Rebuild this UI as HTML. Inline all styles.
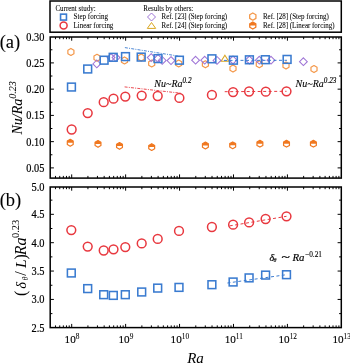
<!DOCTYPE html>
<html><head><meta charset="utf-8"><style>
html,body{margin:0;padding:0;background:#fff;width:350px;height:363px;overflow:hidden}
svg{display:block;will-change:transform}
</style></head><body>
<svg width="350" height="363" viewBox="0 0 350 363">
<rect x="50.2" y="37.0" width="291.10" height="141.10" fill="none" stroke="#000" stroke-width="1.5"/>
<line x1="55.47" y1="178.1" x2="55.47" y2="175.9" stroke="#000" stroke-width="1.0"/>
<line x1="55.47" y1="37.0" x2="55.47" y2="39.2" stroke="#000" stroke-width="1.0"/>
<line x1="59.74" y1="178.1" x2="59.74" y2="175.9" stroke="#000" stroke-width="1.0"/>
<line x1="59.74" y1="37.0" x2="59.74" y2="39.2" stroke="#000" stroke-width="1.0"/>
<line x1="63.35" y1="178.1" x2="63.35" y2="175.9" stroke="#000" stroke-width="1.0"/>
<line x1="63.35" y1="37.0" x2="63.35" y2="39.2" stroke="#000" stroke-width="1.0"/>
<line x1="66.47" y1="178.1" x2="66.47" y2="175.9" stroke="#000" stroke-width="1.0"/>
<line x1="66.47" y1="37.0" x2="66.47" y2="39.2" stroke="#000" stroke-width="1.0"/>
<line x1="69.23" y1="178.1" x2="69.23" y2="175.9" stroke="#000" stroke-width="1.0"/>
<line x1="69.23" y1="37.0" x2="69.23" y2="39.2" stroke="#000" stroke-width="1.0"/>
<line x1="71.70" y1="178.1" x2="71.70" y2="174.4" stroke="#000" stroke-width="1.0"/>
<line x1="71.70" y1="37.0" x2="71.70" y2="40.7" stroke="#000" stroke-width="1.0"/>
<line x1="87.93" y1="178.1" x2="87.93" y2="175.9" stroke="#000" stroke-width="1.0"/>
<line x1="87.93" y1="37.0" x2="87.93" y2="39.2" stroke="#000" stroke-width="1.0"/>
<line x1="97.43" y1="178.1" x2="97.43" y2="175.9" stroke="#000" stroke-width="1.0"/>
<line x1="97.43" y1="37.0" x2="97.43" y2="39.2" stroke="#000" stroke-width="1.0"/>
<line x1="104.17" y1="178.1" x2="104.17" y2="175.9" stroke="#000" stroke-width="1.0"/>
<line x1="104.17" y1="37.0" x2="104.17" y2="39.2" stroke="#000" stroke-width="1.0"/>
<line x1="109.40" y1="178.1" x2="109.40" y2="175.9" stroke="#000" stroke-width="1.0"/>
<line x1="109.40" y1="37.0" x2="109.40" y2="39.2" stroke="#000" stroke-width="1.0"/>
<line x1="113.67" y1="178.1" x2="113.67" y2="175.9" stroke="#000" stroke-width="1.0"/>
<line x1="113.67" y1="37.0" x2="113.67" y2="39.2" stroke="#000" stroke-width="1.0"/>
<line x1="117.28" y1="178.1" x2="117.28" y2="175.9" stroke="#000" stroke-width="1.0"/>
<line x1="117.28" y1="37.0" x2="117.28" y2="39.2" stroke="#000" stroke-width="1.0"/>
<line x1="120.40" y1="178.1" x2="120.40" y2="175.9" stroke="#000" stroke-width="1.0"/>
<line x1="120.40" y1="37.0" x2="120.40" y2="39.2" stroke="#000" stroke-width="1.0"/>
<line x1="123.16" y1="178.1" x2="123.16" y2="175.9" stroke="#000" stroke-width="1.0"/>
<line x1="123.16" y1="37.0" x2="123.16" y2="39.2" stroke="#000" stroke-width="1.0"/>
<line x1="125.63" y1="178.1" x2="125.63" y2="174.4" stroke="#000" stroke-width="1.0"/>
<line x1="125.63" y1="37.0" x2="125.63" y2="40.7" stroke="#000" stroke-width="1.0"/>
<line x1="141.86" y1="178.1" x2="141.86" y2="175.9" stroke="#000" stroke-width="1.0"/>
<line x1="141.86" y1="37.0" x2="141.86" y2="39.2" stroke="#000" stroke-width="1.0"/>
<line x1="151.36" y1="178.1" x2="151.36" y2="175.9" stroke="#000" stroke-width="1.0"/>
<line x1="151.36" y1="37.0" x2="151.36" y2="39.2" stroke="#000" stroke-width="1.0"/>
<line x1="158.10" y1="178.1" x2="158.10" y2="175.9" stroke="#000" stroke-width="1.0"/>
<line x1="158.10" y1="37.0" x2="158.10" y2="39.2" stroke="#000" stroke-width="1.0"/>
<line x1="163.33" y1="178.1" x2="163.33" y2="175.9" stroke="#000" stroke-width="1.0"/>
<line x1="163.33" y1="37.0" x2="163.33" y2="39.2" stroke="#000" stroke-width="1.0"/>
<line x1="167.60" y1="178.1" x2="167.60" y2="175.9" stroke="#000" stroke-width="1.0"/>
<line x1="167.60" y1="37.0" x2="167.60" y2="39.2" stroke="#000" stroke-width="1.0"/>
<line x1="171.21" y1="178.1" x2="171.21" y2="175.9" stroke="#000" stroke-width="1.0"/>
<line x1="171.21" y1="37.0" x2="171.21" y2="39.2" stroke="#000" stroke-width="1.0"/>
<line x1="174.33" y1="178.1" x2="174.33" y2="175.9" stroke="#000" stroke-width="1.0"/>
<line x1="174.33" y1="37.0" x2="174.33" y2="39.2" stroke="#000" stroke-width="1.0"/>
<line x1="177.09" y1="178.1" x2="177.09" y2="175.9" stroke="#000" stroke-width="1.0"/>
<line x1="177.09" y1="37.0" x2="177.09" y2="39.2" stroke="#000" stroke-width="1.0"/>
<line x1="179.56" y1="178.1" x2="179.56" y2="174.4" stroke="#000" stroke-width="1.0"/>
<line x1="179.56" y1="37.0" x2="179.56" y2="40.7" stroke="#000" stroke-width="1.0"/>
<line x1="195.79" y1="178.1" x2="195.79" y2="175.9" stroke="#000" stroke-width="1.0"/>
<line x1="195.79" y1="37.0" x2="195.79" y2="39.2" stroke="#000" stroke-width="1.0"/>
<line x1="205.29" y1="178.1" x2="205.29" y2="175.9" stroke="#000" stroke-width="1.0"/>
<line x1="205.29" y1="37.0" x2="205.29" y2="39.2" stroke="#000" stroke-width="1.0"/>
<line x1="212.03" y1="178.1" x2="212.03" y2="175.9" stroke="#000" stroke-width="1.0"/>
<line x1="212.03" y1="37.0" x2="212.03" y2="39.2" stroke="#000" stroke-width="1.0"/>
<line x1="217.26" y1="178.1" x2="217.26" y2="175.9" stroke="#000" stroke-width="1.0"/>
<line x1="217.26" y1="37.0" x2="217.26" y2="39.2" stroke="#000" stroke-width="1.0"/>
<line x1="221.53" y1="178.1" x2="221.53" y2="175.9" stroke="#000" stroke-width="1.0"/>
<line x1="221.53" y1="37.0" x2="221.53" y2="39.2" stroke="#000" stroke-width="1.0"/>
<line x1="225.14" y1="178.1" x2="225.14" y2="175.9" stroke="#000" stroke-width="1.0"/>
<line x1="225.14" y1="37.0" x2="225.14" y2="39.2" stroke="#000" stroke-width="1.0"/>
<line x1="228.26" y1="178.1" x2="228.26" y2="175.9" stroke="#000" stroke-width="1.0"/>
<line x1="228.26" y1="37.0" x2="228.26" y2="39.2" stroke="#000" stroke-width="1.0"/>
<line x1="231.02" y1="178.1" x2="231.02" y2="175.9" stroke="#000" stroke-width="1.0"/>
<line x1="231.02" y1="37.0" x2="231.02" y2="39.2" stroke="#000" stroke-width="1.0"/>
<line x1="233.49" y1="178.1" x2="233.49" y2="174.4" stroke="#000" stroke-width="1.0"/>
<line x1="233.49" y1="37.0" x2="233.49" y2="40.7" stroke="#000" stroke-width="1.0"/>
<line x1="249.72" y1="178.1" x2="249.72" y2="175.9" stroke="#000" stroke-width="1.0"/>
<line x1="249.72" y1="37.0" x2="249.72" y2="39.2" stroke="#000" stroke-width="1.0"/>
<line x1="259.22" y1="178.1" x2="259.22" y2="175.9" stroke="#000" stroke-width="1.0"/>
<line x1="259.22" y1="37.0" x2="259.22" y2="39.2" stroke="#000" stroke-width="1.0"/>
<line x1="265.96" y1="178.1" x2="265.96" y2="175.9" stroke="#000" stroke-width="1.0"/>
<line x1="265.96" y1="37.0" x2="265.96" y2="39.2" stroke="#000" stroke-width="1.0"/>
<line x1="271.19" y1="178.1" x2="271.19" y2="175.9" stroke="#000" stroke-width="1.0"/>
<line x1="271.19" y1="37.0" x2="271.19" y2="39.2" stroke="#000" stroke-width="1.0"/>
<line x1="275.46" y1="178.1" x2="275.46" y2="175.9" stroke="#000" stroke-width="1.0"/>
<line x1="275.46" y1="37.0" x2="275.46" y2="39.2" stroke="#000" stroke-width="1.0"/>
<line x1="279.07" y1="178.1" x2="279.07" y2="175.9" stroke="#000" stroke-width="1.0"/>
<line x1="279.07" y1="37.0" x2="279.07" y2="39.2" stroke="#000" stroke-width="1.0"/>
<line x1="282.19" y1="178.1" x2="282.19" y2="175.9" stroke="#000" stroke-width="1.0"/>
<line x1="282.19" y1="37.0" x2="282.19" y2="39.2" stroke="#000" stroke-width="1.0"/>
<line x1="284.95" y1="178.1" x2="284.95" y2="175.9" stroke="#000" stroke-width="1.0"/>
<line x1="284.95" y1="37.0" x2="284.95" y2="39.2" stroke="#000" stroke-width="1.0"/>
<line x1="287.42" y1="178.1" x2="287.42" y2="174.4" stroke="#000" stroke-width="1.0"/>
<line x1="287.42" y1="37.0" x2="287.42" y2="40.7" stroke="#000" stroke-width="1.0"/>
<line x1="303.65" y1="178.1" x2="303.65" y2="175.9" stroke="#000" stroke-width="1.0"/>
<line x1="303.65" y1="37.0" x2="303.65" y2="39.2" stroke="#000" stroke-width="1.0"/>
<line x1="313.15" y1="178.1" x2="313.15" y2="175.9" stroke="#000" stroke-width="1.0"/>
<line x1="313.15" y1="37.0" x2="313.15" y2="39.2" stroke="#000" stroke-width="1.0"/>
<line x1="319.89" y1="178.1" x2="319.89" y2="175.9" stroke="#000" stroke-width="1.0"/>
<line x1="319.89" y1="37.0" x2="319.89" y2="39.2" stroke="#000" stroke-width="1.0"/>
<line x1="325.12" y1="178.1" x2="325.12" y2="175.9" stroke="#000" stroke-width="1.0"/>
<line x1="325.12" y1="37.0" x2="325.12" y2="39.2" stroke="#000" stroke-width="1.0"/>
<line x1="329.39" y1="178.1" x2="329.39" y2="175.9" stroke="#000" stroke-width="1.0"/>
<line x1="329.39" y1="37.0" x2="329.39" y2="39.2" stroke="#000" stroke-width="1.0"/>
<line x1="333.00" y1="178.1" x2="333.00" y2="175.9" stroke="#000" stroke-width="1.0"/>
<line x1="333.00" y1="37.0" x2="333.00" y2="39.2" stroke="#000" stroke-width="1.0"/>
<line x1="336.12" y1="178.1" x2="336.12" y2="175.9" stroke="#000" stroke-width="1.0"/>
<line x1="336.12" y1="37.0" x2="336.12" y2="39.2" stroke="#000" stroke-width="1.0"/>
<line x1="338.88" y1="178.1" x2="338.88" y2="175.9" stroke="#000" stroke-width="1.0"/>
<line x1="338.88" y1="37.0" x2="338.88" y2="39.2" stroke="#000" stroke-width="1.0"/>
<rect x="50.2" y="187.0" width="291.10" height="140.60" fill="none" stroke="#000" stroke-width="1.5"/>
<line x1="55.47" y1="327.6" x2="55.47" y2="325.40000000000003" stroke="#000" stroke-width="1.0"/>
<line x1="55.47" y1="187.0" x2="55.47" y2="189.2" stroke="#000" stroke-width="1.0"/>
<line x1="59.74" y1="327.6" x2="59.74" y2="325.40000000000003" stroke="#000" stroke-width="1.0"/>
<line x1="59.74" y1="187.0" x2="59.74" y2="189.2" stroke="#000" stroke-width="1.0"/>
<line x1="63.35" y1="327.6" x2="63.35" y2="325.40000000000003" stroke="#000" stroke-width="1.0"/>
<line x1="63.35" y1="187.0" x2="63.35" y2="189.2" stroke="#000" stroke-width="1.0"/>
<line x1="66.47" y1="327.6" x2="66.47" y2="325.40000000000003" stroke="#000" stroke-width="1.0"/>
<line x1="66.47" y1="187.0" x2="66.47" y2="189.2" stroke="#000" stroke-width="1.0"/>
<line x1="69.23" y1="327.6" x2="69.23" y2="325.40000000000003" stroke="#000" stroke-width="1.0"/>
<line x1="69.23" y1="187.0" x2="69.23" y2="189.2" stroke="#000" stroke-width="1.0"/>
<line x1="71.70" y1="327.6" x2="71.70" y2="323.90000000000003" stroke="#000" stroke-width="1.0"/>
<line x1="71.70" y1="187.0" x2="71.70" y2="190.7" stroke="#000" stroke-width="1.0"/>
<line x1="87.93" y1="327.6" x2="87.93" y2="325.40000000000003" stroke="#000" stroke-width="1.0"/>
<line x1="87.93" y1="187.0" x2="87.93" y2="189.2" stroke="#000" stroke-width="1.0"/>
<line x1="97.43" y1="327.6" x2="97.43" y2="325.40000000000003" stroke="#000" stroke-width="1.0"/>
<line x1="97.43" y1="187.0" x2="97.43" y2="189.2" stroke="#000" stroke-width="1.0"/>
<line x1="104.17" y1="327.6" x2="104.17" y2="325.40000000000003" stroke="#000" stroke-width="1.0"/>
<line x1="104.17" y1="187.0" x2="104.17" y2="189.2" stroke="#000" stroke-width="1.0"/>
<line x1="109.40" y1="327.6" x2="109.40" y2="325.40000000000003" stroke="#000" stroke-width="1.0"/>
<line x1="109.40" y1="187.0" x2="109.40" y2="189.2" stroke="#000" stroke-width="1.0"/>
<line x1="113.67" y1="327.6" x2="113.67" y2="325.40000000000003" stroke="#000" stroke-width="1.0"/>
<line x1="113.67" y1="187.0" x2="113.67" y2="189.2" stroke="#000" stroke-width="1.0"/>
<line x1="117.28" y1="327.6" x2="117.28" y2="325.40000000000003" stroke="#000" stroke-width="1.0"/>
<line x1="117.28" y1="187.0" x2="117.28" y2="189.2" stroke="#000" stroke-width="1.0"/>
<line x1="120.40" y1="327.6" x2="120.40" y2="325.40000000000003" stroke="#000" stroke-width="1.0"/>
<line x1="120.40" y1="187.0" x2="120.40" y2="189.2" stroke="#000" stroke-width="1.0"/>
<line x1="123.16" y1="327.6" x2="123.16" y2="325.40000000000003" stroke="#000" stroke-width="1.0"/>
<line x1="123.16" y1="187.0" x2="123.16" y2="189.2" stroke="#000" stroke-width="1.0"/>
<line x1="125.63" y1="327.6" x2="125.63" y2="323.90000000000003" stroke="#000" stroke-width="1.0"/>
<line x1="125.63" y1="187.0" x2="125.63" y2="190.7" stroke="#000" stroke-width="1.0"/>
<line x1="141.86" y1="327.6" x2="141.86" y2="325.40000000000003" stroke="#000" stroke-width="1.0"/>
<line x1="141.86" y1="187.0" x2="141.86" y2="189.2" stroke="#000" stroke-width="1.0"/>
<line x1="151.36" y1="327.6" x2="151.36" y2="325.40000000000003" stroke="#000" stroke-width="1.0"/>
<line x1="151.36" y1="187.0" x2="151.36" y2="189.2" stroke="#000" stroke-width="1.0"/>
<line x1="158.10" y1="327.6" x2="158.10" y2="325.40000000000003" stroke="#000" stroke-width="1.0"/>
<line x1="158.10" y1="187.0" x2="158.10" y2="189.2" stroke="#000" stroke-width="1.0"/>
<line x1="163.33" y1="327.6" x2="163.33" y2="325.40000000000003" stroke="#000" stroke-width="1.0"/>
<line x1="163.33" y1="187.0" x2="163.33" y2="189.2" stroke="#000" stroke-width="1.0"/>
<line x1="167.60" y1="327.6" x2="167.60" y2="325.40000000000003" stroke="#000" stroke-width="1.0"/>
<line x1="167.60" y1="187.0" x2="167.60" y2="189.2" stroke="#000" stroke-width="1.0"/>
<line x1="171.21" y1="327.6" x2="171.21" y2="325.40000000000003" stroke="#000" stroke-width="1.0"/>
<line x1="171.21" y1="187.0" x2="171.21" y2="189.2" stroke="#000" stroke-width="1.0"/>
<line x1="174.33" y1="327.6" x2="174.33" y2="325.40000000000003" stroke="#000" stroke-width="1.0"/>
<line x1="174.33" y1="187.0" x2="174.33" y2="189.2" stroke="#000" stroke-width="1.0"/>
<line x1="177.09" y1="327.6" x2="177.09" y2="325.40000000000003" stroke="#000" stroke-width="1.0"/>
<line x1="177.09" y1="187.0" x2="177.09" y2="189.2" stroke="#000" stroke-width="1.0"/>
<line x1="179.56" y1="327.6" x2="179.56" y2="323.90000000000003" stroke="#000" stroke-width="1.0"/>
<line x1="179.56" y1="187.0" x2="179.56" y2="190.7" stroke="#000" stroke-width="1.0"/>
<line x1="195.79" y1="327.6" x2="195.79" y2="325.40000000000003" stroke="#000" stroke-width="1.0"/>
<line x1="195.79" y1="187.0" x2="195.79" y2="189.2" stroke="#000" stroke-width="1.0"/>
<line x1="205.29" y1="327.6" x2="205.29" y2="325.40000000000003" stroke="#000" stroke-width="1.0"/>
<line x1="205.29" y1="187.0" x2="205.29" y2="189.2" stroke="#000" stroke-width="1.0"/>
<line x1="212.03" y1="327.6" x2="212.03" y2="325.40000000000003" stroke="#000" stroke-width="1.0"/>
<line x1="212.03" y1="187.0" x2="212.03" y2="189.2" stroke="#000" stroke-width="1.0"/>
<line x1="217.26" y1="327.6" x2="217.26" y2="325.40000000000003" stroke="#000" stroke-width="1.0"/>
<line x1="217.26" y1="187.0" x2="217.26" y2="189.2" stroke="#000" stroke-width="1.0"/>
<line x1="221.53" y1="327.6" x2="221.53" y2="325.40000000000003" stroke="#000" stroke-width="1.0"/>
<line x1="221.53" y1="187.0" x2="221.53" y2="189.2" stroke="#000" stroke-width="1.0"/>
<line x1="225.14" y1="327.6" x2="225.14" y2="325.40000000000003" stroke="#000" stroke-width="1.0"/>
<line x1="225.14" y1="187.0" x2="225.14" y2="189.2" stroke="#000" stroke-width="1.0"/>
<line x1="228.26" y1="327.6" x2="228.26" y2="325.40000000000003" stroke="#000" stroke-width="1.0"/>
<line x1="228.26" y1="187.0" x2="228.26" y2="189.2" stroke="#000" stroke-width="1.0"/>
<line x1="231.02" y1="327.6" x2="231.02" y2="325.40000000000003" stroke="#000" stroke-width="1.0"/>
<line x1="231.02" y1="187.0" x2="231.02" y2="189.2" stroke="#000" stroke-width="1.0"/>
<line x1="233.49" y1="327.6" x2="233.49" y2="323.90000000000003" stroke="#000" stroke-width="1.0"/>
<line x1="233.49" y1="187.0" x2="233.49" y2="190.7" stroke="#000" stroke-width="1.0"/>
<line x1="249.72" y1="327.6" x2="249.72" y2="325.40000000000003" stroke="#000" stroke-width="1.0"/>
<line x1="249.72" y1="187.0" x2="249.72" y2="189.2" stroke="#000" stroke-width="1.0"/>
<line x1="259.22" y1="327.6" x2="259.22" y2="325.40000000000003" stroke="#000" stroke-width="1.0"/>
<line x1="259.22" y1="187.0" x2="259.22" y2="189.2" stroke="#000" stroke-width="1.0"/>
<line x1="265.96" y1="327.6" x2="265.96" y2="325.40000000000003" stroke="#000" stroke-width="1.0"/>
<line x1="265.96" y1="187.0" x2="265.96" y2="189.2" stroke="#000" stroke-width="1.0"/>
<line x1="271.19" y1="327.6" x2="271.19" y2="325.40000000000003" stroke="#000" stroke-width="1.0"/>
<line x1="271.19" y1="187.0" x2="271.19" y2="189.2" stroke="#000" stroke-width="1.0"/>
<line x1="275.46" y1="327.6" x2="275.46" y2="325.40000000000003" stroke="#000" stroke-width="1.0"/>
<line x1="275.46" y1="187.0" x2="275.46" y2="189.2" stroke="#000" stroke-width="1.0"/>
<line x1="279.07" y1="327.6" x2="279.07" y2="325.40000000000003" stroke="#000" stroke-width="1.0"/>
<line x1="279.07" y1="187.0" x2="279.07" y2="189.2" stroke="#000" stroke-width="1.0"/>
<line x1="282.19" y1="327.6" x2="282.19" y2="325.40000000000003" stroke="#000" stroke-width="1.0"/>
<line x1="282.19" y1="187.0" x2="282.19" y2="189.2" stroke="#000" stroke-width="1.0"/>
<line x1="284.95" y1="327.6" x2="284.95" y2="325.40000000000003" stroke="#000" stroke-width="1.0"/>
<line x1="284.95" y1="187.0" x2="284.95" y2="189.2" stroke="#000" stroke-width="1.0"/>
<line x1="287.42" y1="327.6" x2="287.42" y2="323.90000000000003" stroke="#000" stroke-width="1.0"/>
<line x1="287.42" y1="187.0" x2="287.42" y2="190.7" stroke="#000" stroke-width="1.0"/>
<line x1="303.65" y1="327.6" x2="303.65" y2="325.40000000000003" stroke="#000" stroke-width="1.0"/>
<line x1="303.65" y1="187.0" x2="303.65" y2="189.2" stroke="#000" stroke-width="1.0"/>
<line x1="313.15" y1="327.6" x2="313.15" y2="325.40000000000003" stroke="#000" stroke-width="1.0"/>
<line x1="313.15" y1="187.0" x2="313.15" y2="189.2" stroke="#000" stroke-width="1.0"/>
<line x1="319.89" y1="327.6" x2="319.89" y2="325.40000000000003" stroke="#000" stroke-width="1.0"/>
<line x1="319.89" y1="187.0" x2="319.89" y2="189.2" stroke="#000" stroke-width="1.0"/>
<line x1="325.12" y1="327.6" x2="325.12" y2="325.40000000000003" stroke="#000" stroke-width="1.0"/>
<line x1="325.12" y1="187.0" x2="325.12" y2="189.2" stroke="#000" stroke-width="1.0"/>
<line x1="329.39" y1="327.6" x2="329.39" y2="325.40000000000003" stroke="#000" stroke-width="1.0"/>
<line x1="329.39" y1="187.0" x2="329.39" y2="189.2" stroke="#000" stroke-width="1.0"/>
<line x1="333.00" y1="327.6" x2="333.00" y2="325.40000000000003" stroke="#000" stroke-width="1.0"/>
<line x1="333.00" y1="187.0" x2="333.00" y2="189.2" stroke="#000" stroke-width="1.0"/>
<line x1="336.12" y1="327.6" x2="336.12" y2="325.40000000000003" stroke="#000" stroke-width="1.0"/>
<line x1="336.12" y1="187.0" x2="336.12" y2="189.2" stroke="#000" stroke-width="1.0"/>
<line x1="338.88" y1="327.6" x2="338.88" y2="325.40000000000003" stroke="#000" stroke-width="1.0"/>
<line x1="338.88" y1="187.0" x2="338.88" y2="189.2" stroke="#000" stroke-width="1.0"/>
<text x="44.3" y="40.90" font-family="Liberation Serif" font-size="12" text-anchor="end" textLength="18" lengthAdjust="spacingAndGlyphs" stroke="#000" stroke-width="0.22">0.30</text>
<line x1="50.2" y1="49.78" x2="52.400000000000006" y2="49.78" stroke="#000" stroke-width="1.0"/>
<line x1="341.3" y1="49.78" x2="339.1" y2="49.78" stroke="#000" stroke-width="1.0"/>
<line x1="50.2" y1="62.90" x2="53.900000000000006" y2="62.90" stroke="#000" stroke-width="1.0"/>
<line x1="341.3" y1="62.90" x2="337.6" y2="62.90" stroke="#000" stroke-width="1.0"/>
<text x="44.3" y="66.80" font-family="Liberation Serif" font-size="12" text-anchor="end" textLength="18" lengthAdjust="spacingAndGlyphs" stroke="#000" stroke-width="0.22">0.25</text>
<line x1="50.2" y1="76.03" x2="52.400000000000006" y2="76.03" stroke="#000" stroke-width="1.0"/>
<line x1="341.3" y1="76.03" x2="339.1" y2="76.03" stroke="#000" stroke-width="1.0"/>
<line x1="50.2" y1="89.15" x2="53.900000000000006" y2="89.15" stroke="#000" stroke-width="1.0"/>
<line x1="341.3" y1="89.15" x2="337.6" y2="89.15" stroke="#000" stroke-width="1.0"/>
<text x="44.3" y="93.05" font-family="Liberation Serif" font-size="12" text-anchor="end" textLength="18" lengthAdjust="spacingAndGlyphs" stroke="#000" stroke-width="0.22">0.20</text>
<line x1="50.2" y1="102.28" x2="52.400000000000006" y2="102.28" stroke="#000" stroke-width="1.0"/>
<line x1="341.3" y1="102.28" x2="339.1" y2="102.28" stroke="#000" stroke-width="1.0"/>
<line x1="50.2" y1="115.40" x2="53.900000000000006" y2="115.40" stroke="#000" stroke-width="1.0"/>
<line x1="341.3" y1="115.40" x2="337.6" y2="115.40" stroke="#000" stroke-width="1.0"/>
<text x="44.3" y="119.30" font-family="Liberation Serif" font-size="12" text-anchor="end" textLength="18" lengthAdjust="spacingAndGlyphs" stroke="#000" stroke-width="0.22">0.15</text>
<line x1="50.2" y1="128.53" x2="52.400000000000006" y2="128.53" stroke="#000" stroke-width="1.0"/>
<line x1="341.3" y1="128.53" x2="339.1" y2="128.53" stroke="#000" stroke-width="1.0"/>
<line x1="50.2" y1="141.65" x2="53.900000000000006" y2="141.65" stroke="#000" stroke-width="1.0"/>
<line x1="341.3" y1="141.65" x2="337.6" y2="141.65" stroke="#000" stroke-width="1.0"/>
<text x="44.3" y="145.55" font-family="Liberation Serif" font-size="12" text-anchor="end" textLength="18" lengthAdjust="spacingAndGlyphs" stroke="#000" stroke-width="0.22">0.10</text>
<line x1="50.2" y1="154.78" x2="52.400000000000006" y2="154.78" stroke="#000" stroke-width="1.0"/>
<line x1="341.3" y1="154.78" x2="339.1" y2="154.78" stroke="#000" stroke-width="1.0"/>
<line x1="50.2" y1="167.90" x2="53.900000000000006" y2="167.90" stroke="#000" stroke-width="1.0"/>
<line x1="341.3" y1="167.90" x2="337.6" y2="167.90" stroke="#000" stroke-width="1.0"/>
<text x="44.3" y="171.80" font-family="Liberation Serif" font-size="12" text-anchor="end" textLength="18" lengthAdjust="spacingAndGlyphs" stroke="#000" stroke-width="0.22">0.05</text>
<text x="44.5" y="190.90" font-family="Liberation Serif" font-size="12" text-anchor="end" textLength="13" lengthAdjust="spacingAndGlyphs" stroke="#000" stroke-width="0.22">5.0</text>
<line x1="50.2" y1="200.13" x2="52.400000000000006" y2="200.13" stroke="#000" stroke-width="1.0"/>
<line x1="341.3" y1="200.13" x2="339.1" y2="200.13" stroke="#000" stroke-width="1.0"/>
<line x1="50.2" y1="214.32" x2="53.900000000000006" y2="214.32" stroke="#000" stroke-width="1.0"/>
<line x1="341.3" y1="214.32" x2="337.6" y2="214.32" stroke="#000" stroke-width="1.0"/>
<text x="44.5" y="218.22" font-family="Liberation Serif" font-size="12" text-anchor="end" textLength="13" lengthAdjust="spacingAndGlyphs" stroke="#000" stroke-width="0.22">4.5</text>
<line x1="50.2" y1="228.50" x2="52.400000000000006" y2="228.50" stroke="#000" stroke-width="1.0"/>
<line x1="341.3" y1="228.50" x2="339.1" y2="228.50" stroke="#000" stroke-width="1.0"/>
<line x1="50.2" y1="242.69" x2="53.900000000000006" y2="242.69" stroke="#000" stroke-width="1.0"/>
<line x1="341.3" y1="242.69" x2="337.6" y2="242.69" stroke="#000" stroke-width="1.0"/>
<text x="44.5" y="246.59" font-family="Liberation Serif" font-size="12" text-anchor="end" textLength="13" lengthAdjust="spacingAndGlyphs" stroke="#000" stroke-width="0.22">4.0</text>
<line x1="50.2" y1="256.88" x2="52.400000000000006" y2="256.88" stroke="#000" stroke-width="1.0"/>
<line x1="341.3" y1="256.88" x2="339.1" y2="256.88" stroke="#000" stroke-width="1.0"/>
<line x1="50.2" y1="271.06" x2="53.900000000000006" y2="271.06" stroke="#000" stroke-width="1.0"/>
<line x1="341.3" y1="271.06" x2="337.6" y2="271.06" stroke="#000" stroke-width="1.0"/>
<text x="44.5" y="274.96" font-family="Liberation Serif" font-size="12" text-anchor="end" textLength="13" lengthAdjust="spacingAndGlyphs" stroke="#000" stroke-width="0.22">3.5</text>
<line x1="50.2" y1="285.25" x2="52.400000000000006" y2="285.25" stroke="#000" stroke-width="1.0"/>
<line x1="341.3" y1="285.25" x2="339.1" y2="285.25" stroke="#000" stroke-width="1.0"/>
<line x1="50.2" y1="299.43" x2="53.900000000000006" y2="299.43" stroke="#000" stroke-width="1.0"/>
<line x1="341.3" y1="299.43" x2="337.6" y2="299.43" stroke="#000" stroke-width="1.0"/>
<text x="44.5" y="303.33" font-family="Liberation Serif" font-size="12" text-anchor="end" textLength="13" lengthAdjust="spacingAndGlyphs" stroke="#000" stroke-width="0.22">3.0</text>
<line x1="50.2" y1="313.62" x2="52.400000000000006" y2="313.62" stroke="#000" stroke-width="1.0"/>
<line x1="341.3" y1="313.62" x2="339.1" y2="313.62" stroke="#000" stroke-width="1.0"/>
<text x="44.5" y="331.50" font-family="Liberation Serif" font-size="12" text-anchor="end" textLength="13" lengthAdjust="spacingAndGlyphs" stroke="#000" stroke-width="0.22">2.5</text>
<text x="72.00" y="343.3" font-family="Liberation Serif" font-size="11.2" text-anchor="middle" stroke="#000" stroke-width="0.12">10<tspan font-size="7.3" dy="-4.6" stroke-width="0.08">8</tspan></text>
<text x="125.93" y="343.3" font-family="Liberation Serif" font-size="11.2" text-anchor="middle" stroke="#000" stroke-width="0.12">10<tspan font-size="7.3" dy="-4.6" stroke-width="0.08">9</tspan></text>
<text x="179.86" y="343.3" font-family="Liberation Serif" font-size="11.2" text-anchor="middle" stroke="#000" stroke-width="0.12">10<tspan font-size="7.3" dy="-4.6" stroke-width="0.08">10</tspan></text>
<text x="233.79" y="343.3" font-family="Liberation Serif" font-size="11.2" text-anchor="middle" stroke="#000" stroke-width="0.12">10<tspan font-size="7.3" dy="-4.6" stroke-width="0.08">11</tspan></text>
<text x="287.72" y="343.3" font-family="Liberation Serif" font-size="11.2" text-anchor="middle" stroke="#000" stroke-width="0.12">10<tspan font-size="7.3" dy="-4.6" stroke-width="0.08">12</tspan></text>
<text x="341.65" y="343.3" font-family="Liberation Serif" font-size="11.2" text-anchor="middle" stroke="#000" stroke-width="0.12">10<tspan font-size="7.3" dy="-4.6" stroke-width="0.08">13</tspan></text>
<text x="195.5" y="362.8" font-family="Liberation Serif" font-size="15" font-style="italic" text-anchor="middle">Ra</text>
<text x="-0.3" y="47.6" font-family="Liberation Serif" font-size="18.5" stroke="#000" stroke-width="0.1">(a)</text>
<text x="-0.3" y="206.2" font-family="Liberation Serif" font-size="18.5" stroke="#000" stroke-width="0.1">(b)</text>
<text transform="translate(21.6,134.5) rotate(-90)" font-family="Liberation Serif" font-size="14" font-style="italic" stroke="#000" stroke-width="0.05">Nu/Ra<tspan font-size="10" dy="-6" stroke-width="0.05">0.23</tspan></text>
<g transform="translate(26,296) rotate(-90)"><text x="0" y="0" font-family="Liberation Serif" font-size="16">(</text><text x="7.3" y="0" font-family="Liberation Serif" font-size="14.5" font-style="italic">δ</text><text x="15.5" y="1.8" font-family="Liberation Serif" font-size="8" font-style="italic">θ</text><text x="20.3" y="0" font-family="Liberation Serif" font-size="16">/</text><text x="28" y="0" font-family="Liberation Serif" font-size="15.5" font-style="italic">L</text><text x="36.5" y="0" font-family="Liberation Serif" font-size="16">)</text><text x="40.8" y="0" font-family="Liberation Serif" font-size="16" font-style="italic">Ra</text><text x="58" y="-7.4" font-family="Liberation Serif" font-size="10.5">0.23</text></g>
<rect x="50" y="1" width="291.3" height="31.2" fill="#fff" stroke="#000" stroke-width="1.5"/>
<text x="55.4" y="10.5" font-family="Liberation Serif" font-size="7.7" stroke="#000" stroke-width="0.06" textLength="40.3" lengthAdjust="spacingAndGlyphs">Current study:</text>
<rect x="60.55" y="14.15" width="5.9" height="5.9" fill="none" stroke="#3a7bd0" stroke-width="1.6"/>
<text x="73.6" y="19.4" font-family="Liberation Serif" font-size="7.7" stroke="#000" stroke-width="0.06" textLength="34.5" lengthAdjust="spacingAndGlyphs">Step forcing</text>
<circle cx="63.60" cy="25.60" r="3.5" fill="none" stroke="#e8383f" stroke-width="1.5"/>
<text x="73.6" y="27.7" font-family="Liberation Serif" font-size="7.7" stroke="#000" stroke-width="0.06" textLength="39.7" lengthAdjust="spacingAndGlyphs">Linear forcing</text>
<text x="143.3" y="10.5" font-family="Liberation Serif" font-size="7.7" stroke="#000" stroke-width="0.06" textLength="50" lengthAdjust="spacingAndGlyphs">Results by others:</text>
<polygon points="151.5,13.00 155.50,17.0 151.5,21.00 147.50,17.0" fill="none" stroke="#9e74d6" stroke-width="1.0"/>
<polygon points="151.5,22.50 155.70,28.40 147.30,28.40" fill="none" stroke="#d9a520" stroke-width="1.0"/>
<text x="161.6" y="19.4" font-family="Liberation Serif" font-size="7.7" stroke="#000" stroke-width="0.06" textLength="65.6" lengthAdjust="spacingAndGlyphs">Ref. [23] (Step forcing)</text>
<text x="161.6" y="27.7" font-family="Liberation Serif" font-size="7.7" stroke="#000" stroke-width="0.06" textLength="65.6" lengthAdjust="spacingAndGlyphs">Ref. [24] (Step forcing)</text>
<polygon points="252.80,13.00 249.68,14.80 249.68,18.40 252.80,20.20 255.92,18.40 255.92,14.80" fill="none" stroke="#f4984a" stroke-width="1.3" stroke-linejoin="round"/>
<polygon points="249.77,23.75 252.80,22.00 255.83,23.75 255.83,25.50 249.77,25.50" fill="#f07820"/>
<polygon points="252.80,22.00 249.77,23.75 249.77,27.25 252.80,29.00 255.83,27.25 255.83,23.75" fill="none" stroke="#f07820" stroke-width="1.3" stroke-linejoin="round"/>
<text x="262.9" y="19.4" font-family="Liberation Serif" font-size="7.7" stroke="#000" stroke-width="0.06" textLength="65.9" lengthAdjust="spacingAndGlyphs">Ref. [28] (Step forcing)</text>
<text x="262.9" y="27.7" font-family="Liberation Serif" font-size="7.7" stroke="#000" stroke-width="0.06" textLength="71.6" lengthAdjust="spacingAndGlyphs">Ref. [28] (Linear forcing)</text>
<polygon points="224.9,55.30 228.70,61.20 221.10,61.20" fill="none" stroke="#d9a520" stroke-width="1.05"/>
<polygon points="70.90,48.40 67.87,50.15 67.87,53.65 70.90,55.40 73.93,53.65 73.93,50.15" fill="none" stroke="#f4984a" stroke-width="1.2" stroke-linejoin="round"/>
<polygon points="97.00,54.30 93.97,56.05 93.97,59.55 97.00,61.30 100.03,59.55 100.03,56.05" fill="none" stroke="#f4984a" stroke-width="1.2" stroke-linejoin="round"/>
<polygon points="124.50,56.90 121.47,58.65 121.47,62.15 124.50,63.90 127.53,62.15 127.53,58.65" fill="none" stroke="#f4984a" stroke-width="1.2" stroke-linejoin="round"/>
<polygon points="141.20,54.10 138.17,55.85 138.17,59.35 141.20,61.10 144.23,59.35 144.23,55.85" fill="none" stroke="#f4984a" stroke-width="1.2" stroke-linejoin="round"/>
<polygon points="151.70,60.00 148.67,61.75 148.67,65.25 151.70,67.00 154.73,65.25 154.73,61.75" fill="none" stroke="#f4984a" stroke-width="1.2" stroke-linejoin="round"/>
<polygon points="178.70,60.00 175.67,61.75 175.67,65.25 178.70,67.00 181.73,65.25 181.73,61.75" fill="none" stroke="#f4984a" stroke-width="1.2" stroke-linejoin="round"/>
<polygon points="205.40,60.80 202.37,62.55 202.37,66.05 205.40,67.80 208.43,66.05 208.43,62.55" fill="none" stroke="#f4984a" stroke-width="1.2" stroke-linejoin="round"/>
<polygon points="233.00,65.10 229.97,66.85 229.97,70.35 233.00,72.10 236.03,70.35 236.03,66.85" fill="none" stroke="#f4984a" stroke-width="1.2" stroke-linejoin="round"/>
<polygon points="259.30,60.80 256.27,62.55 256.27,66.05 259.30,67.80 262.33,66.05 262.33,62.55" fill="none" stroke="#f4984a" stroke-width="1.2" stroke-linejoin="round"/>
<polygon points="286.00,62.10 282.97,63.85 282.97,67.35 286.00,69.10 289.03,67.35 289.03,63.85" fill="none" stroke="#f4984a" stroke-width="1.2" stroke-linejoin="round"/>
<polygon points="314.00,65.60 310.97,67.35 310.97,70.85 314.00,72.60 317.03,70.85 317.03,67.35" fill="none" stroke="#f4984a" stroke-width="1.2" stroke-linejoin="round"/>
<polygon points="67.31,141.05 70.25,139.35 73.19,141.05 73.19,142.75 67.31,142.75" fill="#f07820"/>
<polygon points="70.25,139.35 67.31,141.05 67.31,144.45 70.25,146.15 73.19,144.45 73.19,141.05" fill="none" stroke="#f07820" stroke-width="1.2" stroke-linejoin="round"/>
<polygon points="95.06,142.20 98.00,140.50 100.94,142.20 100.94,143.90 95.06,143.90" fill="#f07820"/>
<polygon points="98.00,140.50 95.06,142.20 95.06,145.60 98.00,147.30 100.94,145.60 100.94,142.20" fill="none" stroke="#f07820" stroke-width="1.2" stroke-linejoin="round"/>
<polygon points="116.56,144.20 119.50,142.50 122.44,144.20 122.44,145.90 116.56,145.90" fill="#f07820"/>
<polygon points="119.50,142.50 116.56,144.20 116.56,147.60 119.50,149.30 122.44,147.60 122.44,144.20" fill="none" stroke="#f07820" stroke-width="1.2" stroke-linejoin="round"/>
<polygon points="148.76,145.40 151.70,143.70 154.64,145.40 154.64,147.10 148.76,147.10" fill="#f07820"/>
<polygon points="151.70,143.70 148.76,145.40 148.76,148.80 151.70,150.50 154.64,148.80 154.64,145.40" fill="none" stroke="#f07820" stroke-width="1.2" stroke-linejoin="round"/>
<polygon points="202.46,143.80 205.40,142.10 208.34,143.80 208.34,145.50 202.46,145.50" fill="#f07820"/>
<polygon points="205.40,142.10 202.46,143.80 202.46,147.20 205.40,148.90 208.34,147.20 208.34,143.80" fill="none" stroke="#f07820" stroke-width="1.2" stroke-linejoin="round"/>
<polygon points="229.76,143.60 232.70,141.90 235.64,143.60 235.64,145.30 229.76,145.30" fill="#f07820"/>
<polygon points="232.70,141.90 229.76,143.60 229.76,147.00 232.70,148.70 235.64,147.00 235.64,143.60" fill="none" stroke="#f07820" stroke-width="1.2" stroke-linejoin="round"/>
<polygon points="256.96,142.00 259.90,140.30 262.84,142.00 262.84,143.70 256.96,143.70" fill="#f07820"/>
<polygon points="259.90,140.30 256.96,142.00 256.96,145.40 259.90,147.10 262.84,145.40 262.84,142.00" fill="none" stroke="#f07820" stroke-width="1.2" stroke-linejoin="round"/>
<polygon points="283.56,142.00 286.50,140.30 289.44,142.00 289.44,143.70 283.56,143.70" fill="#f07820"/>
<polygon points="286.50,140.30 283.56,142.00 283.56,145.40 286.50,147.10 289.44,145.40 289.44,142.00" fill="none" stroke="#f07820" stroke-width="1.2" stroke-linejoin="round"/>
<polygon points="310.46,142.00 313.40,140.30 316.34,142.00 316.34,143.70 310.46,143.70" fill="#f07820"/>
<polygon points="313.40,140.30 310.46,142.00 310.46,145.40 313.40,147.10 316.34,145.40 316.34,142.00" fill="none" stroke="#f07820" stroke-width="1.2" stroke-linejoin="round"/>
<polygon points="96.8,60.00 100.70,63.9 96.8,67.80 92.90,63.9" fill="none" stroke="#9e74d6" stroke-width="1.05"/>
<polygon points="111,53.70 114.90,57.6 111,61.50 107.10,57.6" fill="none" stroke="#9e74d6" stroke-width="1.05"/>
<polygon points="116,53.70 119.90,57.6 116,61.50 112.10,57.6" fill="none" stroke="#9e74d6" stroke-width="1.05"/>
<polygon points="151.2,53.70 155.10,57.6 151.2,61.50 147.30,57.6" fill="none" stroke="#9e74d6" stroke-width="1.05"/>
<polygon points="158,54.60 161.90,58.5 158,62.40 154.10,58.5" fill="none" stroke="#9e74d6" stroke-width="1.05"/>
<polygon points="162.2,56.50 166.10,60.4 162.2,64.30 158.30,60.4" fill="none" stroke="#9e74d6" stroke-width="1.05"/>
<polygon points="171,56.70 174.90,60.6 171,64.50 167.10,60.6" fill="none" stroke="#9e74d6" stroke-width="1.05"/>
<polygon points="195.6,56.30 199.50,60.2 195.6,64.10 191.70,60.2" fill="none" stroke="#9e74d6" stroke-width="1.05"/>
<polygon points="204.7,56.30 208.60,60.2 204.7,64.10 200.80,60.2" fill="none" stroke="#9e74d6" stroke-width="1.05"/>
<polygon points="217,56.50 220.90,60.4 217,64.30 213.10,60.4" fill="none" stroke="#9e74d6" stroke-width="1.05"/>
<polygon points="233,56.10 236.90,60 233,63.90 229.10,60" fill="none" stroke="#9e74d6" stroke-width="1.05"/>
<polygon points="249.4,56.10 253.30,60 249.4,63.90 245.50,60" fill="none" stroke="#9e74d6" stroke-width="1.05"/>
<polygon points="259.3,56.30 263.20,60.2 259.3,64.10 255.40,60.2" fill="none" stroke="#9e74d6" stroke-width="1.05"/>
<polygon points="271,56.30 274.90,60.2 271,64.10 267.10,60.2" fill="none" stroke="#9e74d6" stroke-width="1.05"/>
<polygon points="303.4,57.80 307.30,61.7 303.4,65.60 299.50,61.7" fill="none" stroke="#9e74d6" stroke-width="1.05"/>
<line x1="124.9" y1="47.6" x2="181" y2="56.5" stroke="#3a7bd0" stroke-width="0.9" stroke-dasharray="3 1.2 1 1.2"/>
<line x1="224" y1="60.4" x2="287" y2="60.3" stroke="#3a7bd0" stroke-width="1" stroke-dasharray="3 2.5"/>
<line x1="124.6" y1="86.9" x2="181.7" y2="93.3" stroke="#e8383f" stroke-width="0.9" stroke-dasharray="3 1.2 1 1.2"/>
<line x1="224.7" y1="91.7" x2="286.5" y2="91.3" stroke="#e8383f" stroke-width="1" stroke-dasharray="3 2.5"/>
<rect x="67.55" y="83.15" width="7.8" height="7.8" fill="none" stroke="#3a7bd0" stroke-width="1.55"/>
<rect x="83.80" y="65.10" width="7.8" height="7.8" fill="none" stroke="#3a7bd0" stroke-width="1.55"/>
<rect x="100.20" y="56.30" width="7.8" height="7.8" fill="none" stroke="#3a7bd0" stroke-width="1.55"/>
<rect x="109.30" y="53.40" width="7.8" height="7.8" fill="none" stroke="#3a7bd0" stroke-width="1.55"/>
<rect x="121.60" y="52.70" width="7.8" height="7.8" fill="none" stroke="#3a7bd0" stroke-width="1.55"/>
<rect x="137.30" y="53.20" width="7.8" height="7.8" fill="none" stroke="#3a7bd0" stroke-width="1.55"/>
<rect x="154.10" y="54.70" width="7.8" height="7.8" fill="none" stroke="#3a7bd0" stroke-width="1.55"/>
<rect x="175.50" y="56.30" width="7.8" height="7.8" fill="none" stroke="#3a7bd0" stroke-width="1.55"/>
<rect x="208.00" y="54.90" width="7.8" height="7.8" fill="none" stroke="#3a7bd0" stroke-width="1.55"/>
<rect x="229.50" y="56.30" width="7.8" height="7.8" fill="none" stroke="#3a7bd0" stroke-width="1.55"/>
<rect x="245.50" y="55.90" width="7.8" height="7.8" fill="none" stroke="#3a7bd0" stroke-width="1.55"/>
<rect x="261.40" y="55.80" width="7.8" height="7.8" fill="none" stroke="#3a7bd0" stroke-width="1.55"/>
<rect x="283.20" y="55.50" width="7.8" height="7.8" fill="none" stroke="#3a7bd0" stroke-width="1.55"/>
<circle cx="71.65" cy="129.50" r="4.4" fill="none" stroke="#e8383f" stroke-width="1.5"/>
<circle cx="87.70" cy="113.10" r="4.4" fill="none" stroke="#e8383f" stroke-width="1.5"/>
<circle cx="103.70" cy="102.20" r="4.4" fill="none" stroke="#e8383f" stroke-width="1.5"/>
<circle cx="113.50" cy="98.70" r="4.4" fill="none" stroke="#e8383f" stroke-width="1.5"/>
<circle cx="125.30" cy="96.60" r="4.4" fill="none" stroke="#e8383f" stroke-width="1.5"/>
<circle cx="141.70" cy="95.60" r="4.4" fill="none" stroke="#e8383f" stroke-width="1.5"/>
<circle cx="157.70" cy="96.00" r="4.4" fill="none" stroke="#e8383f" stroke-width="1.5"/>
<circle cx="179.40" cy="97.90" r="4.4" fill="none" stroke="#e8383f" stroke-width="1.5"/>
<circle cx="211.90" cy="94.90" r="4.4" fill="none" stroke="#e8383f" stroke-width="1.5"/>
<circle cx="233.10" cy="92.10" r="4.4" fill="none" stroke="#e8383f" stroke-width="1.5"/>
<circle cx="249.10" cy="91.50" r="4.4" fill="none" stroke="#e8383f" stroke-width="1.5"/>
<circle cx="265.80" cy="91.70" r="4.4" fill="none" stroke="#e8383f" stroke-width="1.5"/>
<circle cx="286.50" cy="91.30" r="4.4" fill="none" stroke="#e8383f" stroke-width="1.5"/>
<text x="154.3" y="87" font-family="Liberation Serif" font-size="10" font-style="italic" stroke="#000" stroke-width="0.1">Nu~Ra<tspan font-size="7.2" dy="-3.8" stroke-width="0.15">0.2</tspan></text>
<text x="295.6" y="86.8" font-family="Liberation Serif" font-size="10" font-style="italic" stroke="#000" stroke-width="0.1">Nu~Ra<tspan font-size="7.2" dy="-3.8" stroke-width="0.15">0.23</tspan></text>
<line x1="229.7" y1="225.9" x2="286.5" y2="216.3" stroke="#e8383f" stroke-width="1" stroke-dasharray="3 2.5"/>
<line x1="227.4" y1="283" x2="286.5" y2="274.7" stroke="#3a7bd0" stroke-width="1" stroke-dasharray="3 2.5"/>
<circle cx="71.30" cy="230.10" r="4.4" fill="none" stroke="#e8383f" stroke-width="1.5"/>
<circle cx="87.70" cy="246.60" r="4.4" fill="none" stroke="#e8383f" stroke-width="1.5"/>
<circle cx="103.70" cy="250.50" r="4.4" fill="none" stroke="#e8383f" stroke-width="1.5"/>
<circle cx="113.50" cy="249.30" r="4.4" fill="none" stroke="#e8383f" stroke-width="1.5"/>
<circle cx="125.30" cy="247.10" r="4.4" fill="none" stroke="#e8383f" stroke-width="1.5"/>
<circle cx="141.70" cy="243.40" r="4.4" fill="none" stroke="#e8383f" stroke-width="1.5"/>
<circle cx="157.70" cy="238.90" r="4.4" fill="none" stroke="#e8383f" stroke-width="1.5"/>
<circle cx="179.00" cy="230.90" r="4.4" fill="none" stroke="#e8383f" stroke-width="1.5"/>
<circle cx="211.90" cy="227.00" r="4.4" fill="none" stroke="#e8383f" stroke-width="1.5"/>
<circle cx="233.10" cy="224.70" r="4.4" fill="none" stroke="#e8383f" stroke-width="1.5"/>
<circle cx="249.10" cy="222.40" r="4.4" fill="none" stroke="#e8383f" stroke-width="1.5"/>
<circle cx="265.60" cy="219.00" r="4.4" fill="none" stroke="#e8383f" stroke-width="1.5"/>
<circle cx="286.50" cy="216.30" r="4.4" fill="none" stroke="#e8383f" stroke-width="1.5"/>
<rect x="67.40" y="269.10" width="7.8" height="7.8" fill="none" stroke="#3a7bd0" stroke-width="1.55"/>
<rect x="83.80" y="284.70" width="7.8" height="7.8" fill="none" stroke="#3a7bd0" stroke-width="1.55"/>
<rect x="99.80" y="290.80" width="7.8" height="7.8" fill="none" stroke="#3a7bd0" stroke-width="1.55"/>
<rect x="109.40" y="291.50" width="7.8" height="7.8" fill="none" stroke="#3a7bd0" stroke-width="1.55"/>
<rect x="121.40" y="290.80" width="7.8" height="7.8" fill="none" stroke="#3a7bd0" stroke-width="1.55"/>
<rect x="137.80" y="288.10" width="7.8" height="7.8" fill="none" stroke="#3a7bd0" stroke-width="1.55"/>
<rect x="153.80" y="284.20" width="7.8" height="7.8" fill="none" stroke="#3a7bd0" stroke-width="1.55"/>
<rect x="175.10" y="283.50" width="7.8" height="7.8" fill="none" stroke="#3a7bd0" stroke-width="1.55"/>
<rect x="208.00" y="280.80" width="7.8" height="7.8" fill="none" stroke="#3a7bd0" stroke-width="1.55"/>
<rect x="229.20" y="278.10" width="7.8" height="7.8" fill="none" stroke="#3a7bd0" stroke-width="1.55"/>
<rect x="245.20" y="274.00" width="7.8" height="7.8" fill="none" stroke="#3a7bd0" stroke-width="1.55"/>
<rect x="261.70" y="271.20" width="7.8" height="7.8" fill="none" stroke="#3a7bd0" stroke-width="1.55"/>
<rect x="282.60" y="270.80" width="7.8" height="7.8" fill="none" stroke="#3a7bd0" stroke-width="1.55"/>
<text x="269.6" y="260.6" font-family="Liberation Serif" font-size="10" font-style="italic" stroke="#000" stroke-width="0.2">δ</text>
<text x="273.6" y="262" font-family="Liberation Serif" font-size="6" font-style="italic" stroke="#000" stroke-width="0.15">θ</text>
<text x="0" y="0" font-family="Liberation Serif" font-size="14" transform="translate(281.6,261.3) scale(1,0.85)" textLength="8.4" lengthAdjust="spacingAndGlyphs" stroke="#000" stroke-width="0.3">~</text>
<text x="292.4" y="260.8" font-family="Liberation Serif" font-size="10.8" font-style="italic" stroke="#000" stroke-width="0.2">Ra</text>
<text x="305" y="256.7" font-family="Liberation Serif" font-size="7.4" textLength="17" lengthAdjust="spacingAndGlyphs" stroke="#000" stroke-width="0.12">−0.21</text>
</svg>
</body></html>
